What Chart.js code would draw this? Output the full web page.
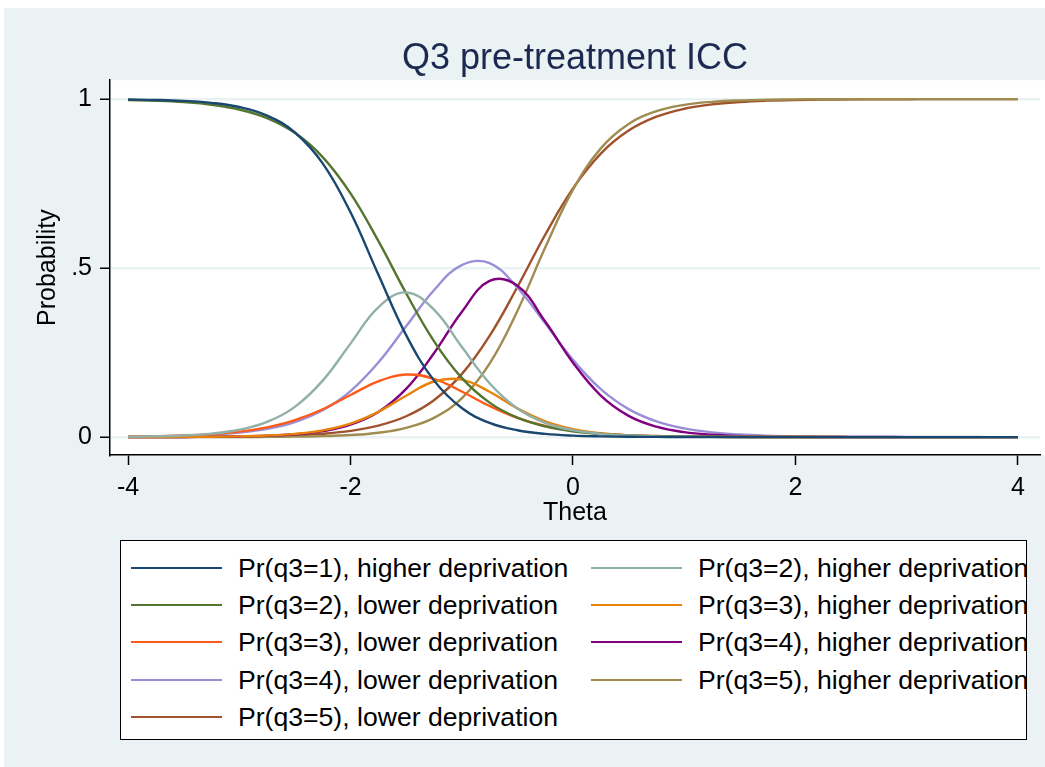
<!DOCTYPE html>
<html>
<head>
<meta charset="utf-8">
<script src="https://cdn.jsdelivr.net/npm/chart.js@4.4.1/dist/chart.umd.min.js"></script>
<style>
  body { margin: 0; background: #fff; font-family: 'Liberation Sans', Arial, sans-serif; }
  #bg { position: absolute; left: 4px; top: 8px; width: 1041px; height: 759px; background: #eaf2f3; }
  #chart { position: absolute; left: 0; top: 0; }
  #legend { position: absolute; left: 120px; top: 540px; width: 905px; height: 198px;
            background: #fff; border: 1.5px solid #000; }
  .item { position: absolute; height: 30px; }
  .swatch { position: absolute; top: 14px; width: 91px; height: 0; border-top: 2.5px solid; }
  .label { position: absolute; left: 107px; top: 0; font-size: 26.6px; line-height: 30px; color: #000; white-space: nowrap; }
</style>
</head>
<body>
<div id="bg"></div>
<canvas id="chart" width="1045" height="540"></canvas>
<div id="legend"></div>
<script>
// theta grid the curves were read at
const theta = [-4, -3.75, -3.5, -3.25, -3, -2.75, -2.5, -2.25, -2, -1.75, -1.5, -1.25, -1, -0.75, -0.5, -0.25,
  0, 0.25, 0.5, 0.75, 1, 1.25, 1.5, 1.75, 2, 2.25, 2.5, 2.75, 3, 3.25, 3.5, 3.75, 4];

const p1Higher = [0.9989, 0.9976, 0.9948, 0.989, 0.9767, 0.9514, 0.9012, 0.8099, 0.6651, 0.4809, 0.3017, 0.1678,
  0.0859, 0.042, 0.0201, 0.0095, 0.0044, 0.0021, 0.001, 0.0005, 0.0002, 0.0001, 0, 0, 0, 0, 0, 0, 0, 0, 0, 0, 0];
const p2Higher = [0.0011, 0.0023, 0.0048, 0.0102, 0.0216, 0.0448, 0.0895, 0.167, 0.2766, 0.384, 0.428, 0.3771,
  0.2672, 0.1595, 0.0848, 0.0423, 0.0204, 0.0096, 0.0045, 0.0021, 0.001, 0.0005, 0.0002, 0.0001, 0, 0, 0, 0, 0, 0, 0, 0, 0];
const p2Lower = [0.9974, 0.9952, 0.991, 0.9833, 0.9692, 0.944, 0.9002, 0.8285, 0.7211, 0.5805, 0.4256, 0.2839,
  0.1751, 0.102, 0.0573, 0.0315, 0.0171, 0.0092, 0.005, 0.0027, 0.0014, 0.0008, 0.0004, 0.0002, 0.0001, 0.0001, 0, 0, 0, 0, 0, 0, 0];
const p3Higher = [0.0001, 0.0002, 0.0005, 0.001, 0.0021, 0.0045, 0.0096, 0.0198, 0.0397, 0.0744, 0.1222, 0.1645,
  0.1701, 0.1341, 0.085, 0.0466, 0.0235, 0.0114, 0.0054, 0.0026, 0.0012, 0.0006, 0.0003, 0.0001, 0.0001, 0, 0, 0, 0, 0, 0, 0, 0];
const p3Lower = [0.0014, 0.0026, 0.0047, 0.0087, 0.016, 0.0288, 0.0501, 0.0824, 0.1244, 0.1651, 0.185, 0.1725,
  0.1349, 0.0919, 0.0567, 0.033, 0.0185, 0.0101, 0.0055, 0.003, 0.0016, 0.0009, 0.0005, 0.0002, 0.0001, 0.0001, 0, 0, 0, 0, 0, 0, 0];
const p4Higher = [0.0001, 0.0002, 0.0004, 0.0009, 0.0018, 0.0039, 0.0083, 0.0175, 0.0366, 0.0742, 0.1426, 0.248,
  0.3701, 0.462, 0.448, 0.3419, 0.2199, 0.1228, 0.0628, 0.0307, 0.0146, 0.0069, 0.0032, 0.0015, 0.0007, 0.0003, 0.0002, 0.0001, 0, 0, 0, 0, 0];
const p4Lower = [0.0011, 0.0021, 0.0038, 0.0071, 0.0132, 0.0244, 0.0444, 0.0792, 0.1361, 0.2205, 0.3278, 0.4345,
  0.509, 0.515, 0.442, 0.3368, 0.2285, 0.1417, 0.0827, 0.0465, 0.0256, 0.0139, 0.0075, 0.004, 0.0022, 0.0012, 0.0006, 0.0003, 0.0002, 0.0001, 0.0001, 0, 0];
const p5Higher = [0, 0, 0.0001, 0.0001, 0.0003, 0.0006, 0.0013, 0.0029, 0.0061, 0.013, 0.0274, 0.057,
  0.1147, 0.2173, 0.3732, 0.5607, 0.7322, 0.8543, 0.9264, 0.9642, 0.983, 0.992, 0.9963, 0.9982, 0.9992, 0.9996, 0.9998, 0.9999, 1, 1, 1, 1, 1];
const p5Lower = [0.0001, 0.0002, 0.0004, 0.0008, 0.0015, 0.0029, 0.0054, 0.01, 0.0184, 0.0339, 0.0616, 0.1091,
  0.1862, 0.2994, 0.444, 0.5987, 0.7359, 0.8389, 0.9068, 0.9479, 0.9714, 0.9845, 0.9916, 0.9955, 0.9976, 0.9987, 0.9993, 0.9996, 0.9998, 0.9999, 0.9999, 1, 1];

// legend order (row by row, two columns)
const seriesLabels = [
  'Pr(q3=1), higher deprivation', 'Pr(q3=2), higher deprivation',
  'Pr(q3=2), lower deprivation', 'Pr(q3=3), higher deprivation',
  'Pr(q3=3), lower deprivation', 'Pr(q3=4), higher deprivation',
  'Pr(q3=4), lower deprivation', 'Pr(q3=5), higher deprivation',
  'Pr(q3=5), lower deprivation'
];
const seriesValues = [p1Higher, p2Higher, p2Lower, p3Higher, p3Lower, p4Higher, p4Lower, p5Higher, p5Lower];
const seriesColors = ['#1a476f', '#90b0a8', '#55752f', '#e8820a', '#ff5a18', '#800080', '#9a8fd7', '#a08c50', '#a0522d'];

const xTicks = [-4, -2, 0, 2, 4];
const yTicks = [0, 0.5, 1];
const yTickLabels = ['0', '.5', '1'];

const font = "'Liberation Sans', Arial, sans-serif";

const plotBackground = {
  id: 'plotBackground',
  beforeDraw(chart) {
    const { ctx, chartArea } = chart;
    ctx.save();
    ctx.fillStyle = '#ffffff';
    ctx.fillRect(chartArea.left, chartArea.top, chart.width - chartArea.left, chartArea.bottom - chartArea.top);
    ctx.restore();
  }
};

const chart = new Chart(document.getElementById('chart'), {
  type: 'line',
  data: {
    datasets: seriesValues.map((vals, i) => ({
      label: seriesLabels[i],
      data: theta.map((t, j) => ({ x: t, y: vals[j] })),
      borderColor: seriesColors[i],
      borderWidth: 2.4,
      pointRadius: 0,
      tension: 0.4,
      fill: false,
    })),
  },
  options: {
    responsive: false,
    animation: false,
    events: [],
    layout: { padding: { top: 0, left: 0, right: 5, bottom: 0 } },
    plugins: {
      legend: { display: false },
      tooltip: { enabled: false },
      title: {
        display: true,
        fullSize: false,   // centre over the plot region, not the whole canvas
        text: 'Q3 pre-treatment ICC',
        color: '#1c2a52',
        font: { family: font, size: 36, weight: 'normal', lineHeight: 1.2 },
        padding: { top: 37, bottom: 0 },
      },
    },
    scales: {
      x: {
        type: 'linear',
        min: -4.162,
        max: 4.198,
        afterFit(scale) { scale.height = 85; },
        afterBuildTicks(scale) { scale.ticks = xTicks.map(v => ({ value: v })); },
        grid: { drawOnChartArea: false, tickLength: 10, tickColor: '#000', tickWidth: 1.5 },
        border: { display: true, color: '#000', width: 1.5 },
        ticks: {
          color: '#000',
          padding: 8,
          maxRotation: 0,
          font: { family: font, size: 25 },
          callback: (v) => String(v),
        },
        title: {
          display: true,
          text: 'Theta',
          color: '#000',
          font: { family: font, size: 25, lineHeight: 1.2 },
          padding: { top: 0, bottom: 12 },
        },
      },
      y: {
        min: -0.053,
        max: 1.056,
        afterFit(scale) { scale.width = 110; },
        afterBuildTicks(scale) { scale.ticks = yTicks.map(v => ({ value: v })); },
        grid: { color: '#eaf2f3', lineWidth: 2.5, tickLength: 10, tickColor: '#000', tickWidth: 1.5 },
        border: { display: true, color: '#000', width: 1.5 },
        ticks: {
          color: '#000',
          padding: 8,
          font: { family: font, size: 25 },
          callback: (v) => yTickLabels[yTicks.indexOf(v)],
        },
        title: {
          display: true,
          text: 'Probability',
          color: '#000',
          font: { family: font, size: 25, lineHeight: 1.2 },
          padding: { top: 33, bottom: 0 },
        },
      },
    },
  },
  plugins: [plotBackground],
});

// two-column legend box under the plot
const legend = document.getElementById('legend');
const colLeft = [10, 470];
const rowTop = [12, 49, 86, 124, 161];
chart.data.datasets.forEach((ds, i) => {
  const item = document.createElement('div');
  item.className = 'item';
  item.style.left = colLeft[i % 2] + 'px';
  item.style.top = rowTop[Math.floor(i / 2)] + 'px';
  const sw = document.createElement('div');
  sw.className = 'swatch';
  sw.style.borderTopColor = ds.borderColor;
  const lab = document.createElement('span');
  lab.className = 'label';
  lab.textContent = ds.label;
  item.appendChild(sw);
  item.appendChild(lab);
  legend.appendChild(item);
});
</script>
</body>
</html>
